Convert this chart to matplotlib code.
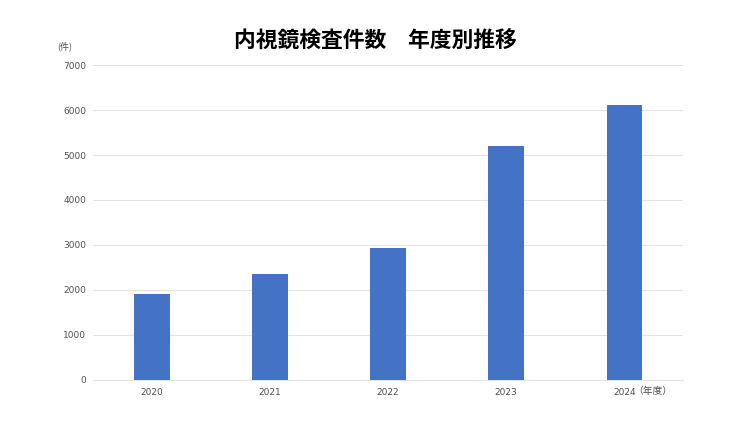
import matplotlib
matplotlib.use('Agg')
import matplotlib.pyplot as plt
import numpy as np

plt.rcParams['font.family'] = ['Noto Sans CJK JP', 'DejaVu Sans']

# --- datos ---
years = ['2020', '2021', '2022', '2023', '2024']
counts = [1900, 2360, 2940, 5190, 6120]
title = '内視鏡検査件数　年度別推移'
y_unit = '(件)'
x_unit = '（年度）'

fig = plt.figure(figsize=(7.5, 4.21), dpi=100)
ax = fig.add_axes([0.124, 0.0974, 0.787, 0.7482])

x = np.arange(len(years))
ax.bar(x, counts, width=0.3, color='#4472C4', zorder=3)

ax.set_xlim(-0.5, len(years) - 0.5)
ax.set_ylim(0, 7000)
ax.set_yticks(np.arange(0, 7001, 1000))
ax.set_xticks(x)
ax.set_xticklabels(years)
ax.grid(axis='y', color='#e3e3e3', linewidth=0.8, zorder=0)
ax.tick_params(length=0, labelsize=6.5, colors='#505050')
ax.tick_params(axis='x', pad=5.5)
ax.tick_params(axis='y', pad=5)
for lbl in ax.get_xticklabels() + ax.get_yticklabels():
    lbl.set_fontfamily('DejaVu Sans')
for s in ['top', 'right', 'left']:
    ax.spines[s].set_visible(False)
ax.spines['bottom'].set_color('#e3e3e3')
ax.spines['bottom'].set_linewidth(0.8)

# unidades
ax.annotate(x_unit, xy=(x[-1], 0), xycoords='data', xytext=(6.5, -4.5),
            textcoords='offset points', fontsize=7, color='#505050',
            ha='left', va='top')
fig.text(65 / 750, 1 - 46 / 421, y_unit, fontsize=6.5, color='#505050',
         ha='center', va='center')

fig.text(0.5, 1 - 41 / 421, title, fontsize=15.7, fontweight='bold',
         ha='center', va='center')

fig.savefig('out.png', dpi=100)
